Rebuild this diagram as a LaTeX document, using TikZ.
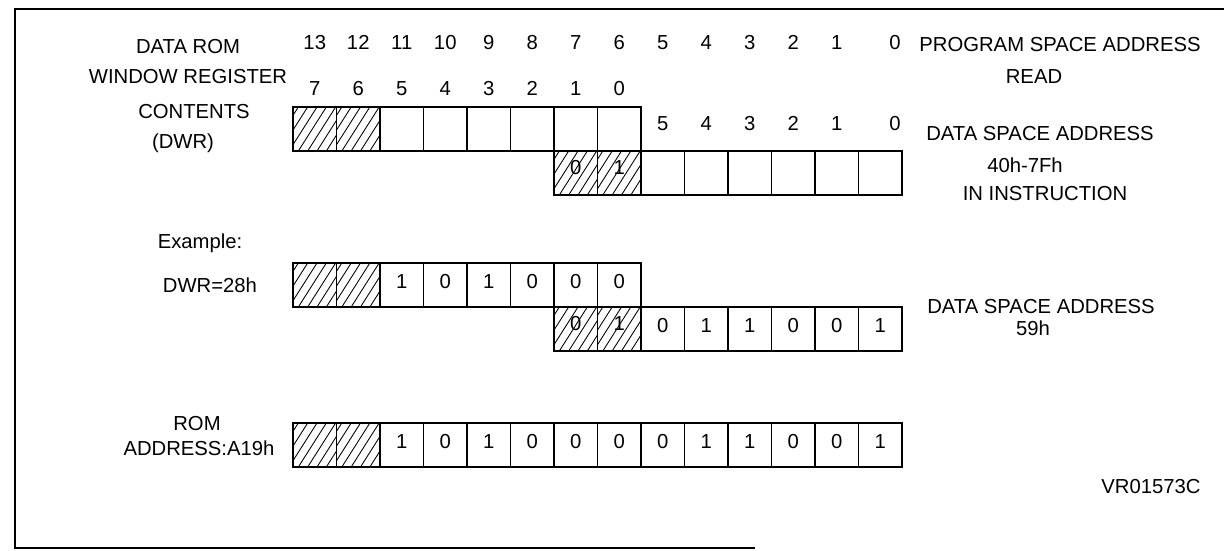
\documentclass[tikz,border=0pt]{standalone}
\usepackage{fontspec}
\setmainfont{Liberation Sans}
\begin{document}
\begin{tikzpicture}[x=0.75pt,y=-0.75pt,
  every node/.style={font=\fontsize{15.2}{18}\selectfont,inner sep=0pt,outer sep=0pt},
  txt/.style={anchor=base},
  cell/.style={draw,line width=1pt,minimum width=32.625pt,minimum height=33pt,
    anchor=north west,text height=10.9pt,text depth=6pt},
  hdig/.style={text depth=9pt},
  hatch/.style={path picture={
    \foreach \k in {-24,-17,...,36}{
      \draw[line width=0.65pt] ([xshift=\k pt]path picture bounding box.south west) -- ++(21pt,33pt);}}}
]
\useasboundingbox (0,0) rectangle (1224,550);
% frame
\draw[line width=1.6pt] (1224,9) -- (15,9) -- (15,548) -- (755,548);

% left labels
\node[txt] (l1) at (188,53) {DATA ROM};
\node[txt] (l2) at (188,83) {WINDOW REGISTER};
\node[txt] (l3) at (194,118) {CONTENTS};
\node[txt] (l4) at (183,148) {(DWR)};

% bit numbers, program space address
\foreach \i/\t in {0/13,1/12,2/11,3/10,4/9,5/8,6/7,7/6,8/5,9/4,10/3,11/2,12/1}
  \node[txt] (p\i) at ({314.75+43.5*\i},49) {\t};
\node[txt] (p13) at (895,49) {0};
% DWR bit numbers
\foreach \i/\t in {0/7,1/6,2/5,3/4,4/3,5/2,6/1,7/0}
  \node[txt] (w\i) at ({314.75+43.5*\i},95) {\t};
% data space bit numbers
\foreach \i/\t in {8/5,9/4,10/3,11/2,12/1}
  \node[txt] (s\i) at ({314.75+43.5*\i},130) {\t};
\node[txt] (s13) at (895,130) {0};

\node[txt] (r1) at (1060,51) {PROGRAM SPACE ADDRESS};
\node[txt] (r2) at (1034,83) {READ};
\node[txt] (r3) at (1040,140) {DATA SPACE ADDRESS};
\node[txt] (r4) at (1025,172) {40h-7Fh};
\node[txt] (r5) at (1045,200) {IN INSTRUCTION};

% DWR register row
\foreach \i in {0,1} \node[cell,hatch] (dwr\i) at ({293+43.5*\i},107) {};
\foreach \i in {2,...,7} \node[cell] (dwr\i) at ({293+43.5*\i},107) {};
% instruction row
\foreach \i/\t in {6/0,7/1} \node[cell,hatch,hdig] (ins\i) at ({293+43.5*\i},151) {\t};
\foreach \i in {8,...,13} \node[cell] (ins\i) at ({293+43.5*\i},151) {};

% separator
\draw[line width=1pt] ([yshift=-45pt]dwr7.north east) -- ++(0,12);
\draw[line width=1pt] ([yshift=-22.5pt]dwr7.north east) -- ++(0,13);
\draw[line width=1pt] ([yshift=-7.5pt]dwr7.north east) -- (dwr7.north east);

% example
\node[txt] (e1) at (200,248) {Example:};
\node[txt] (e2) at (210,292) {DWR=28h};
\foreach \i in {0,1} \node[cell,hatch] (exa\i) at ({293+43.5*\i},263) {};
\foreach \i/\t in {2/1,3/0,4/1,5/0,6/0,7/0} \node[cell] (exa\i) at ({293+43.5*\i},263) {\t};
\foreach \i/\t in {6/0,7/1} \node[cell,hatch,hdig] (exb\i) at ({293+43.5*\i},307) {\t};
\foreach \i/\t in {8/0,9/1,10/1,11/0,12/0,13/1} \node[cell] (exb\i) at ({293+43.5*\i},307) {\t};
\node[txt] (e3) at (1041,313) {DATA SPACE ADDRESS};
\node[txt] (e4) at (1033,335) {59h};

% ROM address
\node[txt] (m1) at (197,430) {ROM};
\node[txt] (m2) at (199,455) {ADDRESS:A19h};
\foreach \i in {0,1} \node[cell,hatch] (rom\i) at ({293+43.5*\i},423) {};
\foreach \i/\t in {2/1,3/0,4/1,5/0,6/0,7/0,8/0,9/1,10/1,11/0,12/0,13/1}
  \node[cell] (rom\i) at ({293+43.5*\i},423) {\t};

\node[txt] (vr) at (1151,493) {VR01573C};
\end{tikzpicture}
\end{document}
